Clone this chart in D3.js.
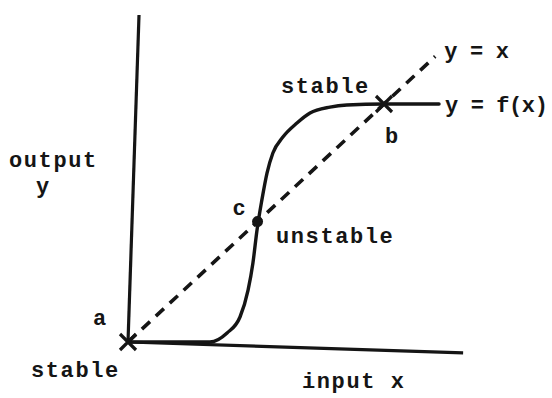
<!DOCTYPE html>
<html>
<head>
<meta charset="utf-8">
<script src="https://cdn.jsdelivr.net/npm/d3@7"></script>
<style>
  html, body { margin: 0; padding: 0; background: #fff; }
  svg { display: block; }
  text { font-family: "Liberation Mono", "DejaVu Sans Mono", monospace; font-weight: bold; fill: #151515; }
</style>
</head>
<body>
<div id="chart"></div>
<script>
// ---- data (input x, output y in normalised units; b = (1,1)) ----
const curveX = [0, 0.203, 0.32, 0.387, 0.4375, 0.469, 0.488, 0.504, 0.523, 0.543, 0.566, 0.605, 0.66, 0.711, 0.789, 0.855, 1.0, 1.215];
const curveY = [0, 0, 0, 0.038, 0.105, 0.218, 0.332, 0.471, 0.597, 0.71, 0.794, 0.861, 0.92, 0.962, 0.987, 0.996, 1.0, 1.0];
const identityX = [0, 1.2];           // y = x (dashed)
const yAxisX = [0, 0.043];            // hand-drawn axes (slightly tilted)
const yAxisY = [0, 1.374];
const xAxisX = [0, 1.309];
const xAxisY = [0, -0.046];
const fixedNames = ["a", "c", "b"];
const fixedX = [0, 0.506, 1.0];
const fixedKind = ["cross", "dot", "cross"];

const W = 552, H = 398;
const x = d3.scaleLinear().domain([0, 1]).range([128, 384]);
const y = d3.scaleLinear().domain([0, 1]).range([342, 104]);

const svg = d3.select("#chart").append("svg").attr("width", W).attr("height", H);
const ink = "#151515";

const line = d3.line().x(d => x(d[0])).y(d => y(d[1]));

// axes
svg.append("path").attr("d", line(d3.zip(yAxisX, yAxisY)))
  .attr("stroke", ink).attr("stroke-width", 3.2).attr("fill", "none");
svg.append("path").attr("d", line(d3.zip(xAxisX, xAxisY)))
  .attr("stroke", ink).attr("stroke-width", 3.2).attr("fill", "none");

// y = x dashed
svg.append("path").attr("d", line(identityX.map(v => [v, v])))
  .attr("stroke", ink).attr("stroke-width", 3.6).attr("fill", "none")
  .attr("stroke-dasharray", "11,8");

// y = f(x)
svg.append("path")
  .attr("d", d3.line().x(d => x(d[0])).y(d => y(d[1])).curve(d3.curveMonotoneX)(d3.zip(curveX, curveY)))
  .attr("stroke", ink).attr("stroke-width", 3.4).attr("fill", "none")
  .attr("stroke-linecap", "round");

// fixed points
fixedX.forEach((v, i) => {
  const px = x(v), py = y(v);
  if (fixedKind[i] === "cross") {
    const r = 8;
    svg.append("path")
      .attr("d", `M${px - r},${py - r}L${px + r},${py + r}M${px - r},${py + r}L${px + r},${py - r}`)
      .attr("stroke", ink).attr("stroke-width", 3.2);
  } else {
    svg.append("circle").attr("cx", px).attr("cy", py).attr("r", 5.5).attr("fill", ink);
  }
});

// labels
const fs = 22;
function label(t, lx, ly, ls) {
  svg.append("text").attr("x", lx).attr("y", ly)
    .attr("font-size", fs).attr("letter-spacing", ls === undefined ? 1.6 : ls).text(t);
}
label("output", 9, 167);
label("y", 36, 193);
label("stable", 281, 93);
label("y = x", x(identityX[1]) + 9, 58, -0.3);
label("y = f(x)", x(curveX[curveX.length - 1]) + 6, 112, -0.4);
label(fixedNames[2], x(fixedX[2]) + 1, 143);
label(fixedNames[1], x(fixedX[1]) - 25, 215);
label("unstable", 276, 243);
label(fixedNames[0], x(fixedX[0]) - 35, 325);
label("stable", 31, 377);
label("input x", 302, 388);
</script>
</body>
</html>
